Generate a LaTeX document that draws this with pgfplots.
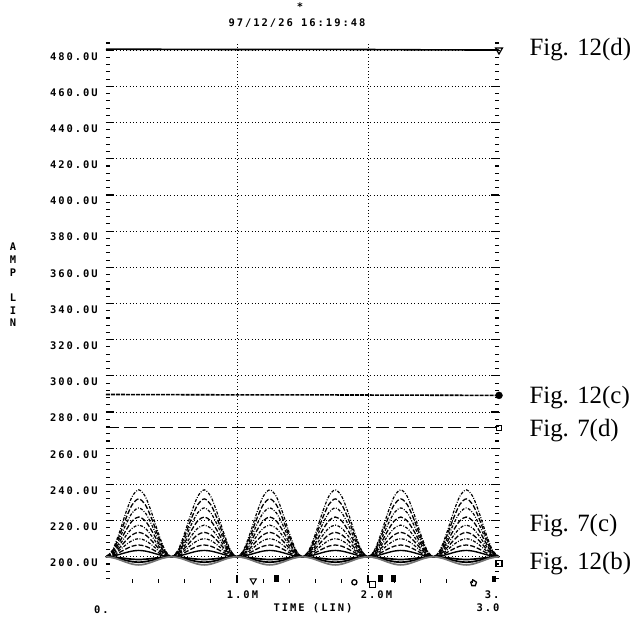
\documentclass[border=0pt]{standalone}
\usepackage{pgfplots}
\pgfplotsset{compat=1.18}
\usepackage{pgfplotstable}
\usepackage{fontspec}
\setmainfont{Liberation Serif}
\newfontfamily\plotfont[LetterSpace=19]{DejaVu Sans Mono}
\newcommand\pf{\plotfont\bfseries\fontsize{10.5}{12.7}\selectfont}
\newcommand\figfont{\fontsize{25}{29}\selectfont}

% bump family (Fig. 7(c)) and lower lobes (Fig. 12(b))
\pgfplotstableread{
x u1 u2 u3 u4 u5 u6 u7 u8 u9 l1 l2 l3
0.00 200 200 200 200 200 200 200 200 200 200 200 200
0.05 203.7 203.2 202.7 202.2 201.75 201.35 201.0 200.65 200.35 199.85 199.7 199.55
0.10 212.95 211.2 209.45 207.7 206.13 204.73 203.5 202.28 201.23 199.48 198.95 198.43
0.15 224.05 220.8 217.55 214.3 211.38 208.78 206.5 204.23 202.28 199.03 198.05 197.08
0.20 233.3 228.8 224.3 219.8 215.75 212.15 209 205.85 203.15 198.65 197.3 195.95
0.25 237 232 227 222 217.5 213.5 210 206.5 203.5 198.5 197 195.5
0.30 233.3 228.8 224.3 219.8 215.75 212.15 209 205.85 203.15 198.65 197.3 195.95
0.35 224.05 220.8 217.55 214.3 211.38 208.78 206.5 204.23 202.28 199.03 198.05 197.08
0.40 212.95 211.2 209.45 207.7 206.13 204.73 203.5 202.28 201.23 199.48 198.95 198.43
0.45 203.7 203.2 202.7 202.2 201.75 201.35 201.0 200.65 200.35 199.85 199.7 199.55
0.50 200 200 200 200 200 200 200 200 200 200 200 200
0.55 203.7 203.2 202.7 202.2 201.75 201.35 201.0 200.65 200.35 199.85 199.7 199.55
0.60 212.95 211.2 209.45 207.7 206.13 204.73 203.5 202.28 201.23 199.48 198.95 198.43
0.65 224.05 220.8 217.55 214.3 211.38 208.78 206.5 204.23 202.28 199.03 198.05 197.08
0.70 233.3 228.8 224.3 219.8 215.75 212.15 209 205.85 203.15 198.65 197.3 195.95
0.75 237 232 227 222 217.5 213.5 210 206.5 203.5 198.5 197 195.5
0.80 233.3 228.8 224.3 219.8 215.75 212.15 209 205.85 203.15 198.65 197.3 195.95
0.85 224.05 220.8 217.55 214.3 211.38 208.78 206.5 204.23 202.28 199.03 198.05 197.08
0.90 212.95 211.2 209.45 207.7 206.13 204.73 203.5 202.28 201.23 199.48 198.95 198.43
0.95 203.7 203.2 202.7 202.2 201.75 201.35 201.0 200.65 200.35 199.85 199.7 199.55
1.00 200 200 200 200 200 200 200 200 200 200 200 200
1.05 203.7 203.2 202.7 202.2 201.75 201.35 201.0 200.65 200.35 199.85 199.7 199.55
1.10 212.95 211.2 209.45 207.7 206.13 204.73 203.5 202.28 201.23 199.48 198.95 198.43
1.15 224.05 220.8 217.55 214.3 211.38 208.78 206.5 204.23 202.28 199.03 198.05 197.08
1.20 233.3 228.8 224.3 219.8 215.75 212.15 209 205.85 203.15 198.65 197.3 195.95
1.25 237 232 227 222 217.5 213.5 210 206.5 203.5 198.5 197 195.5
1.30 233.3 228.8 224.3 219.8 215.75 212.15 209 205.85 203.15 198.65 197.3 195.95
1.35 224.05 220.8 217.55 214.3 211.38 208.78 206.5 204.23 202.28 199.03 198.05 197.08
1.40 212.95 211.2 209.45 207.7 206.13 204.73 203.5 202.28 201.23 199.48 198.95 198.43
1.45 203.7 203.2 202.7 202.2 201.75 201.35 201.0 200.65 200.35 199.85 199.7 199.55
1.50 200 200 200 200 200 200 200 200 200 200 200 200
1.55 203.7 203.2 202.7 202.2 201.75 201.35 201.0 200.65 200.35 199.85 199.7 199.55
1.60 212.95 211.2 209.45 207.7 206.13 204.73 203.5 202.28 201.23 199.48 198.95 198.43
1.65 224.05 220.8 217.55 214.3 211.38 208.78 206.5 204.23 202.28 199.03 198.05 197.08
1.70 233.3 228.8 224.3 219.8 215.75 212.15 209 205.85 203.15 198.65 197.3 195.95
1.75 237 232 227 222 217.5 213.5 210 206.5 203.5 198.5 197 195.5
1.80 233.3 228.8 224.3 219.8 215.75 212.15 209 205.85 203.15 198.65 197.3 195.95
1.85 224.05 220.8 217.55 214.3 211.38 208.78 206.5 204.23 202.28 199.03 198.05 197.08
1.90 212.95 211.2 209.45 207.7 206.13 204.73 203.5 202.28 201.23 199.48 198.95 198.43
1.95 203.7 203.2 202.7 202.2 201.75 201.35 201.0 200.65 200.35 199.85 199.7 199.55
2.00 200 200 200 200 200 200 200 200 200 200 200 200
2.05 203.7 203.2 202.7 202.2 201.75 201.35 201.0 200.65 200.35 199.85 199.7 199.55
2.10 212.95 211.2 209.45 207.7 206.13 204.73 203.5 202.28 201.23 199.48 198.95 198.43
2.15 224.05 220.8 217.55 214.3 211.38 208.78 206.5 204.23 202.28 199.03 198.05 197.08
2.20 233.3 228.8 224.3 219.8 215.75 212.15 209 205.85 203.15 198.65 197.3 195.95
2.25 237 232 227 222 217.5 213.5 210 206.5 203.5 198.5 197 195.5
2.30 233.3 228.8 224.3 219.8 215.75 212.15 209 205.85 203.15 198.65 197.3 195.95
2.35 224.05 220.8 217.55 214.3 211.38 208.78 206.5 204.23 202.28 199.03 198.05 197.08
2.40 212.95 211.2 209.45 207.7 206.13 204.73 203.5 202.28 201.23 199.48 198.95 198.43
2.45 203.7 203.2 202.7 202.2 201.75 201.35 201.0 200.65 200.35 199.85 199.7 199.55
2.50 200 200 200 200 200 200 200 200 200 200 200 200
2.55 203.7 203.2 202.7 202.2 201.75 201.35 201.0 200.65 200.35 199.85 199.7 199.55
2.60 212.95 211.2 209.45 207.7 206.13 204.73 203.5 202.28 201.23 199.48 198.95 198.43
2.65 224.05 220.8 217.55 214.3 211.38 208.78 206.5 204.23 202.28 199.03 198.05 197.08
2.70 233.3 228.8 224.3 219.8 215.75 212.15 209 205.85 203.15 198.65 197.3 195.95
2.75 237 232 227 222 217.5 213.5 210 206.5 203.5 198.5 197 195.5
2.80 233.3 228.8 224.3 219.8 215.75 212.15 209 205.85 203.15 198.65 197.3 195.95
2.85 224.05 220.8 217.55 214.3 211.38 208.78 206.5 204.23 202.28 199.03 198.05 197.08
2.90 212.95 211.2 209.45 207.7 206.13 204.73 203.5 202.28 201.23 199.48 198.95 198.43
2.95 203.7 203.2 202.7 202.2 201.75 201.35 201.0 200.65 200.35 199.85 199.7 199.55
3.00 200 200 200 200 200 200 200 200 200 200 200 200
}\bumps

\begin{document}
\begin{tikzpicture}
\useasboundingbox (-106bp,-37bp) rectangle (531bp,583bp);
\begin{axis}[
  at={(0,0)}, anchor=south west, scale only axis,
  width=393bp, height=540bp,
  xmin=0, xmax=3, ymin=185.5, ymax=484,
  clip=false,
  separate axis lines,
  axis line style={draw=none},
  xtick={1,2}, xticklabels={},
  minor xtick={0.2,0.4,0.6,0.8,1.2,1.4,1.6,1.8,2.2,2.4,2.6,2.8},
  ytick={200,220,240,260,280,300,320,340,360,380,400,420,440,460,480},
  yticklabels={200.0U,220.0U,240.0U,260.0U,280.0U,300.0U,320.0U,340.0U,360.0U,380.0U,400.0U,420.0U,440.0U,460.0U,480.0U},
  minor ytick={188,192,196,204,208,212,216,224,228,232,236,244,248,252,256,264,268,272,276,284,288,292,296,304,308,312,316,324,328,332,336,344,348,352,356,364,368,372,376,384,388,392,396,404,408,412,416,424,428,432,436,444,448,452,456,464,468,472,476,484},
  xtick pos=bottom, ytick pos=both,
  tick align=inside,
  major tick length=8bp, minor tick length=4bp,
  every tick/.append style={black, line width=1.1pt},
  grid=major,
  major grid style={black, line width=0.8pt, dash pattern=on 0.8pt off 2.6pt},
  yticklabel style={font=\pf, anchor=east, inner sep=0pt, xshift=-8bp, yshift=-6bp},
]
% Fig. 12(d)
\addplot[black, line width=1.6pt] coordinates {(0,480.6) (0.5,480.5) (1,480.4) (1.5,480.5) (2,480.4) (2.5,480.2) (3,480.1)};
\addplot[only marks, mark=triangle, mark size=4bp, mark options={rotate=180, black, line width=1.2pt}] coordinates {(3,480.1)};
% Fig. 12(c)
\addplot[black, line width=1.6pt, dash pattern=on 4pt off 1pt] coordinates {(0,289.7) (0.5,289.6) (1,289.5) (1.5,289.5) (2,289.4) (2.5,289.3) (3,289.2)};
\addplot[only marks, mark=*, mark size=3.5bp, black] coordinates {(3,289.2)};
% Fig. 7(d)
\addplot[black, line width=1.3pt, dash pattern=on 13bp off 5bp] coordinates {(0,271.3) (3,271.3)};
\addplot[only marks, mark=square, mark size=2.5bp, mark options={black, line width=1pt}] coordinates {(3,271.3)};
% Fig. 7(c) family
\addplot[black, line width=1.2pt, smooth, dash pattern=on 3pt off 1.5pt on 0.9pt off 1.5pt] table[x=x,y=u1]{\bumps};
\addplot[black, line width=1.3pt, smooth, dash pattern=on 5pt off 2pt] table[x=x,y=u2]{\bumps};
\addplot[black, line width=1.2pt, smooth, dash pattern=on 3pt off 1.5pt on 0.9pt off 1.5pt] table[x=x,y=u3]{\bumps};
\addplot[black, line width=1.3pt, smooth, dash pattern=on 5pt off 2pt] table[x=x,y=u4]{\bumps};
\addplot[black, line width=1.2pt, smooth, dash pattern=on 3pt off 1.5pt on 0.9pt off 1.5pt] table[x=x,y=u5]{\bumps};
\addplot[black, line width=1.3pt, smooth, dash pattern=on 5pt off 2pt] table[x=x,y=u6]{\bumps};
\addplot[black, line width=1.2pt, smooth, dash pattern=on 3pt off 1.5pt on 0.9pt off 1.5pt] table[x=x,y=u7]{\bumps};
\addplot[black, line width=1.3pt, smooth, dash pattern=on 5pt off 2pt] table[x=x,y=u8]{\bumps};
\addplot[black, line width=1.4pt, smooth] table[x=x,y=u9]{\bumps};
% Fig. 12(b) and lower lobes
\addplot[black, line width=1.7pt, smooth] table[x=x,y=l1]{\bumps};
\addplot[black, line width=1.7pt, smooth] table[x=x,y=l2]{\bumps};
\addplot[black!55, line width=1.7pt, smooth] table[x=x,y=l3]{\bumps};
\addplot[only marks, mark=square, mark size=3bp, mark options={black, line width=1.1pt}] coordinates {(3,196.5)};
% marker symbols along the bottom
\addplot[only marks, mark=triangle, mark size=3.5bp, mark options={rotate=180, black, line width=1pt}] coordinates {(1.124,186.8)};
\addplot[only marks, mark=square*, mark size=2.6bp, mark options={black, xscale=0.7}] coordinates {(1.30,188.2) (2.095,188.2) (2.194,188.2) (2.959,187.8)};
\addplot[only marks, mark=o, mark size=2.6bp, mark options={black, line width=1.3pt}] coordinates {(1.896,185.9)};
\addplot[only marks, mark=square, mark size=2.8bp, mark options={black, line width=1pt}] coordinates {(2.034,184.8)};
\addplot[only marks, mark=pentagon, mark size=3bp, mark options={black, line width=1.3pt}] coordinates {(2.806,185.4)};
% curve labels
\node[anchor=west, font=\figfont, xshift=27bp] at (axis cs:3,480.6) {Fig. 12(d)};
\node[anchor=west, font=\figfont, xshift=27bp] at (axis cs:3,288.2) {Fig. 12(c)};
\node[anchor=west, font=\figfont, xshift=27bp] at (axis cs:3,270.0) {Fig. 7(d)};
\node[anchor=west, font=\figfont, xshift=27bp] at (axis cs:3,217.3) {Fig. 7(c)};
\node[anchor=west, font=\figfont, xshift=27bp] at (axis cs:3,196.3) {Fig. 12(b)};
\end{axis}
% plotter texts
\node[font=\pf] at (194bp,576bp) {*};
\node[font=\pf] at (191bp,560bp) {97/12/26 16:19:48};
\node[font=\pf, align=center] at (-93bp,298bp) {A\\M\\P\\[12.7bp]L\\I\\N};
\node[font=\pf] at (136.5bp,-12bp) {1.0M};
\node[font=\pf] at (270.5bp,-12bp) {2.0M};
\node[font=\pf, anchor=east] at (397bp,-12bp) {3.};
\node[font=\pf, anchor=east] at (397bp,-25bp) {3.0};
\node[font=\pf] at (-4.5bp,-27bp) {0.};
\node[font=\pf] at (207bp,-25bp) {TIME (LIN)};
\end{tikzpicture}
\end{document}
